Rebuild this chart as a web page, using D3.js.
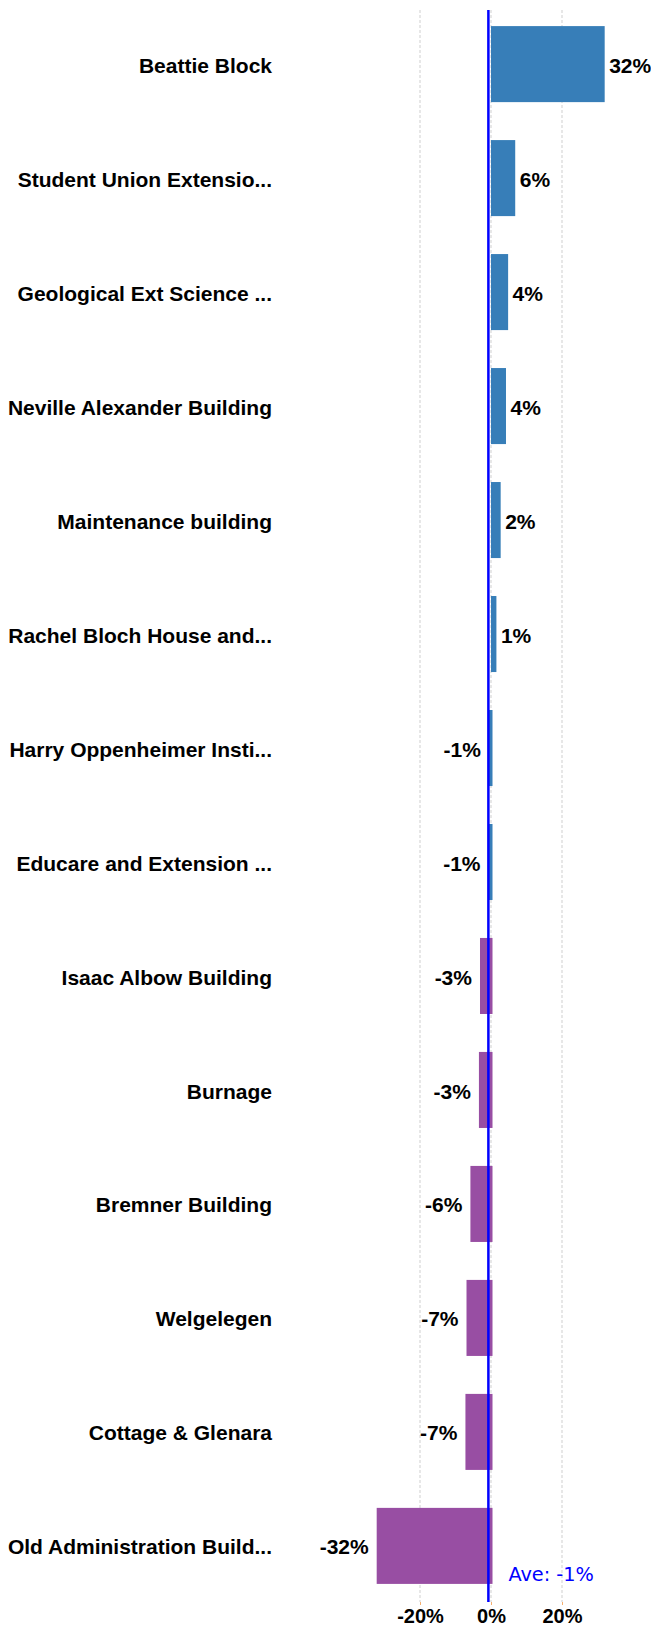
<!DOCTYPE html>
<html>
<head>
<meta charset="utf-8">
<script src="https://cdn.jsdelivr.net/npm/d3@7"></script>
<style>
  html, body { margin: 0; padding: 0; background: #fff; }
  svg { display: block; }
</style>
</head>
<body>
<div id="chart"></div>
<script>
const categories = [
  "Beattie Block",
  "Student Union Extensio...",
  "Geological Ext Science ...",
  "Neville Alexander Building",
  "Maintenance building",
  "Rachel Bloch House and...",
  "Harry Oppenheimer Insti...",
  "Educare and Extension ...",
  "Isaac Albow Building",
  "Burnage",
  "Bremner Building",
  "Welgelegen",
  "Cottage & Glenara",
  "Old Administration Build..."
];
const values = [0.316, 0.064, 0.044, 0.038, 0.023, 0.011, -0.006, -0.007, -0.031, -0.034, -0.058, -0.069, -0.072, -0.322];
const tickValues = [-0.2, 0, 0.2];
const colors = ["#984ea3", "#377eb8"];

const W = 651, H = 1628;
const svg = d3.select("#chart").append("svg").attr("width", W).attr("height", H);

const x = d3.scaleLinear().domain([-0.35, 0.35]).range([366.75, 615.25]);
const y = d3.scaleBand().domain(categories).range([9, 1601]).paddingInner(0.333).paddingOuter(0.15);
const color = d3.scaleThreshold().domain([-0.02]).range(colors);
const fmt0 = d3.format(".0%");
const fmt = v => fmt0(v).replace("\u2212", "-");
const avg = d3.mean(values);
const gridTop = 10, gridBottom = 1602;
const labelFont = "'Liberation Sans', Arial, sans-serif";

// gridlines
svg.append("g").selectAll("line").data(tickValues).join("line")
  .attr("x1", d => x(d)).attr("x2", d => x(d))
  .attr("y1", gridTop).attr("y2", gridBottom)
  .attr("stroke", "#cfcfcf").attr("stroke-width", 1).attr("stroke-dasharray", "3,2");

// axis
const axis = svg.append("g").attr("transform", `translate(0,${gridBottom})`)
  .call(d3.axisBottom(x).tickValues(tickValues).tickSize(3).tickFormat(fmt));
axis.select(".domain").remove();
axis.selectAll(".tick line").attr("stroke", "#f5b070");
axis.selectAll(".tick text")
  .attr("y", 7)
  .attr("font-family", labelFont)
  .attr("font-weight", "bold").attr("font-size", "20px").attr("fill", "#000");

// bars
svg.append("g").selectAll("rect").data(values).join("rect")
  .attr("x", d => Math.min(x(d), x(0)))
  .attr("width", d => Math.abs(x(d) - x(0)) + 1.5)
  .attr("y", (d, i) => y(categories[i]))
  .attr("height", y.bandwidth())
  .attr("fill", d => color(d));

// category labels
svg.append("g").selectAll("text").data(categories).join("text")
  .attr("x", 272).attr("y", d => y(d) + y.bandwidth() / 2 + 3)
  .attr("text-anchor", "end").attr("dominant-baseline", "middle")
  .attr("font-family", labelFont)
  .attr("font-weight", "bold").attr("font-size", "21px").attr("fill", "#000")
  .text(d => d);

// value labels
svg.append("g").selectAll("text").data(values).join("text")
  .attr("x", d => d >= 0 ? x(d) + 6 : x(d) - 8)
  .attr("y", (d, i) => y(categories[i]) + y.bandwidth() / 2 + 3)
  .attr("text-anchor", d => d >= 0 ? "start" : "end")
  .attr("dominant-baseline", "middle")
  .attr("font-family", labelFont)
  .attr("font-weight", "bold").attr("font-size", "21px").attr("fill", "#000")
  .text(d => fmt(d));

// average line
svg.append("line")
  .attr("x1", x(avg)).attr("x2", x(avg))
  .attr("y1", gridTop).attr("y2", gridBottom)
  .attr("stroke", "#0000ff").attr("stroke-width", 2.5);

svg.append("text")
  .attr("x", x(avg) + 20).attr("y", 1581)
  .attr("font-family", "'DejaVu Sans', Verdana, sans-serif")
  .attr("font-size", "19.3px").attr("fill", "#0000ff")
  .text("Ave: " + fmt(avg));
</script>
</body>
</html>
